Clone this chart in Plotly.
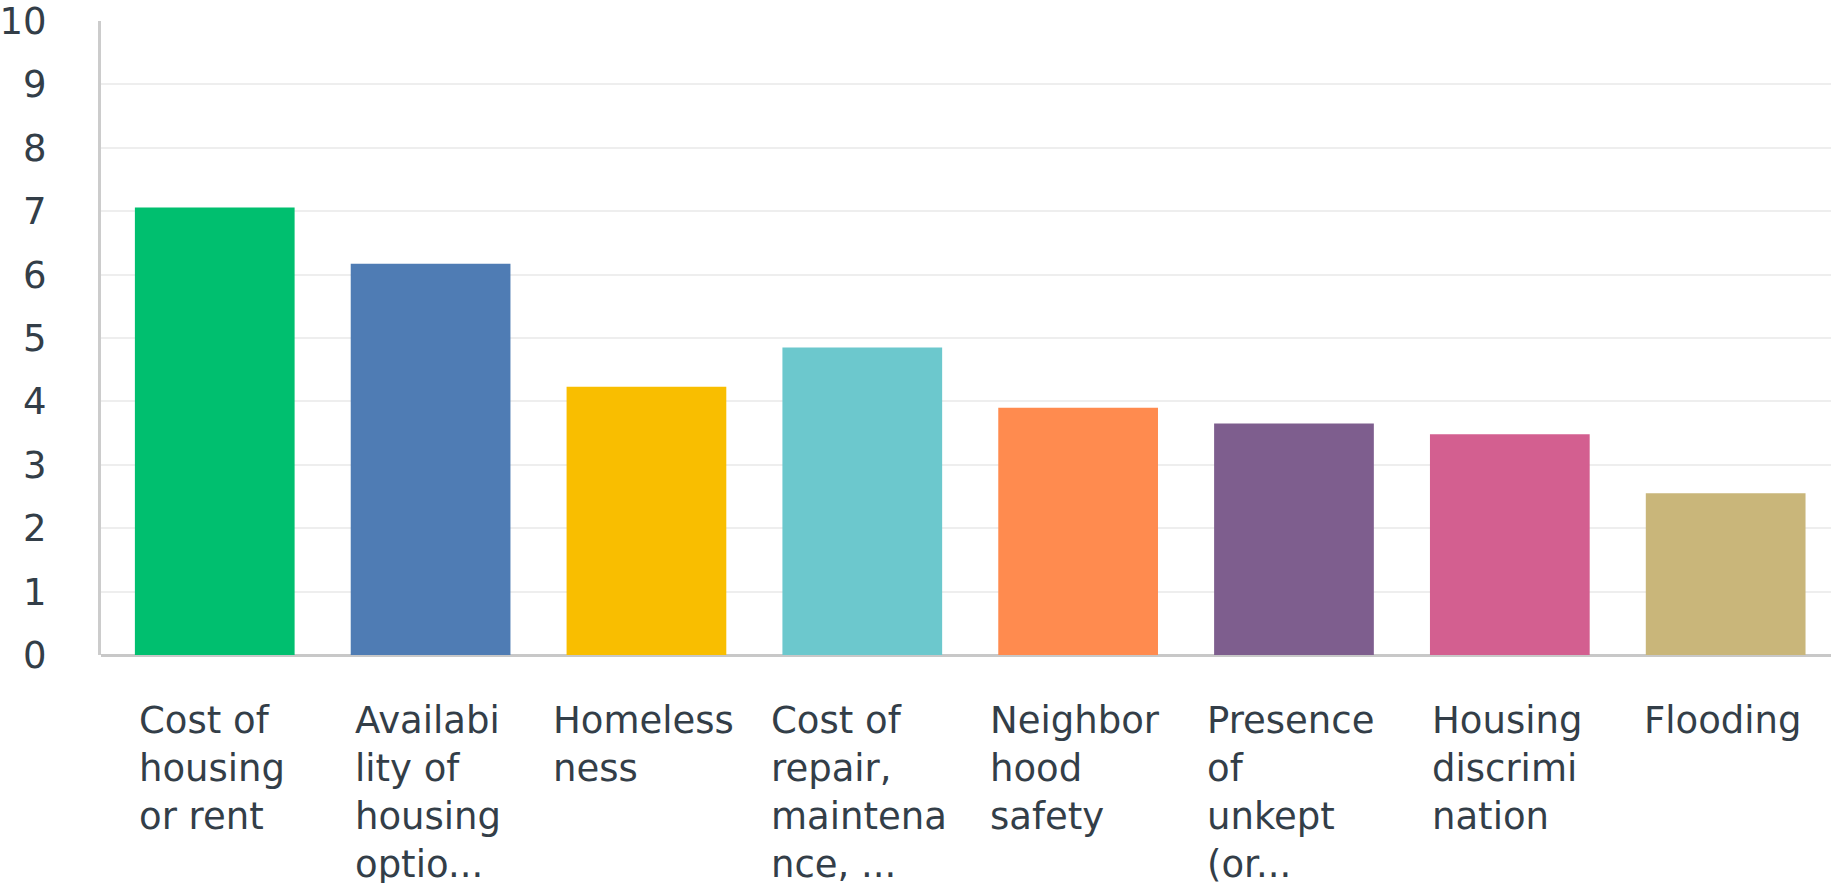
import plotly.graph_objects as go

categories = ["Cost of housing or rent", "Availability of housing options",
              "Homelessness", "Cost of repair, maintenance",
              "Neighborhood safety", "Presence of unkept",
              "Housing discrimination", "Flooding"]
tick_labels = ["Cost of<br>housing<br>or rent", "Availabi<br>lity of<br>housing<br>optio...",
               "Homeless<br>ness", "Cost of<br>repair,<br>maintena<br>nce, ...",
               "Neighbor<br>hood<br>safety", "Presence<br>of<br>unkept<br>(or...",
               "Housing<br>discrimi<br>nation", "Flooding"]
values = [7.06, 6.17, 4.23, 4.85, 3.90, 3.65, 3.48, 2.55]
colors = ["#00BF6F", "#4F7CB4", "#F9BE00", "#6CC8CD",
          "#FF8B4F", "#7E5E8E", "#D35F90", "#C9B67A"]

FONT = "DejaVu Sans"
TXT = "#333e48"

fig = go.Figure()
fig.add_trace(go.Bar(x=categories, y=values, marker=dict(color=colors, line=dict(width=0)),
                     width=0.74, hoverinfo="skip"))

for cat, lab in zip(categories, tick_labels):
    fig.add_annotation(x=cat, y=0, xref="x", yref="y", text=lab, showarrow=False,
                       xanchor="center", yanchor="top", align="left",
                       xshift=-3, yshift=-42,
                       font=dict(family=FONT, size=37, color=TXT))

fig.update_layout(
    width=1831, height=883,
    margin=dict(l=98, r=0, t=12, b=228),
    paper_bgcolor="white", plot_bgcolor="white",
    showlegend=False,
    xaxis=dict(type="category", range=[-0.527, 7.488], showticklabels=False,
               showgrid=False, zeroline=False, showline=False),
    yaxis=dict(range=[0, 10], dtick=1, showgrid=True, gridcolor="#eeeeee", gridwidth=2,
               zeroline=True, zerolinecolor="#c8c8c8", zerolinewidth=3,
               showline=True, linecolor="#cccccc", linewidth=3,
               ticks="", ticklabelstandoff=44, ticklabeloverflow="allow",
               tickfont=dict(family=FONT, size=37, color=TXT)),
)
fig.write_html("out.html", config={"displayModeBar": False},
               post_script="document.body.style.margin='0';")
